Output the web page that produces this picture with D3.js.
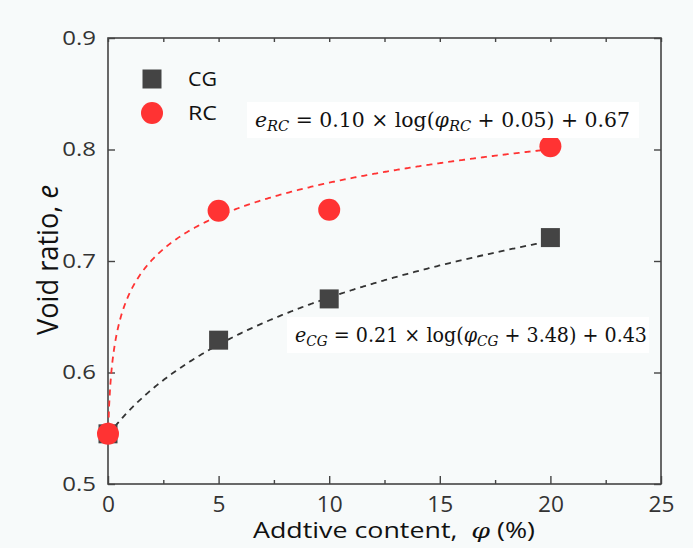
<!DOCTYPE html>
<html><head><meta charset="utf-8">
<script src="https://cdn.jsdelivr.net/npm/d3@7"></script>
<style>
html,body{margin:0;padding:0;background:#f7fafa;}
svg{display:block;}
</style></head>
<body>
<svg id="chart" width="693" height="548"></svg>
<script>
// Data
const additive = [0, 5, 10, 20];
const cgValues = [0.545, 0.629, 0.666, 0.721];
const rcValues = [0.545, 0.745, 0.746, 0.803];
const xTicks = [0, 5, 10, 15, 20, 25];
const yTicks = [0.5, 0.6, 0.7, 0.8, 0.9];
// fitted curve parameters (from the equations shown)
const rcFit = {a: 0.10, b: 0.05, c: 0.67};
const cgFit = {a: 0.21, b: 3.48, c: 0.43};

const svg = d3.select("#chart");
const W = 693, H = 548;
const m = {l: 108, r: 693 - 661, t: 38, b: 548 - 484};
const x = d3.scaleLinear().domain([0, 25]).range([m.l, W - m.r]);
const y = d3.scaleLinear().domain([0.5, 0.9]).range([H - m.b, m.t]);

svg.append("rect").attr("width", W).attr("height", H).attr("fill", "#f7fafa");

const axisColor = "#444";
svg.append("rect").attr("x", x(0)).attr("y", y(0.9))
  .attr("width", x(25) - x(0)).attr("height", y(0.5) - y(0.9))
  .attr("fill", "none").attr("stroke", axisColor).attr("stroke-width", 1.6);

const sans = "'Open Sans', 'Liberation Sans', sans-serif";

const xMinor = d3.range(0, 25.01, 2.5);
const gx = svg.append("g").attr("transform", `translate(0,${y(0.5)})`)
  .call(d3.axisBottom(x).tickValues(xMinor).tickSize(-4).tickFormat(""));
gx.selectAll("line").filter(d => d % 5 === 0).attr("y2", -8);
gx.select(".domain").remove();
gx.selectAll("line").attr("stroke", axisColor).attr("stroke-width", 1.4);

const gxl = svg.append("g").attr("transform", `translate(0,${y(0.5)})`)
  .call(d3.axisBottom(x).tickValues(xTicks).tickSize(0).tickPadding(13).tickFormat(d3.format("d")));
gxl.select(".domain").remove();
gxl.selectAll("text").attr("font-family", sans).attr("font-size", 21).attr("fill", "#333")
  .attr("transform", "scale(1.08,1)");

const gxt = svg.append("g").attr("transform", `translate(0,${y(0.9)})`)
  .call(d3.axisTop(x).tickValues(xMinor).tickSize(-4).tickFormat(""));
gxt.select(".domain").remove();
gxt.selectAll("line").attr("stroke", axisColor).attr("stroke-width", 1.4);

const gy = svg.append("g").attr("transform", `translate(${x(0)},0)`)
  .call(d3.axisLeft(y).tickValues(yTicks).tickSize(-7).tickPadding(0).tickFormat(d3.format(".1f")));
gy.select(".domain").remove();
gy.selectAll("line").attr("stroke", axisColor).attr("stroke-width", 1.4);
gy.selectAll("text").attr("font-family", sans).attr("font-size", 20).attr("fill", "#333")
  .attr("x", 0).attr("transform", "translate(-12,0) scale(1.2,1)");

const gyr = svg.append("g").attr("transform", `translate(${x(25)},0)`)
  .call(d3.axisRight(y).tickValues(yTicks).tickSize(-7).tickFormat(""));
gyr.select(".domain").remove();
gyr.selectAll("line").attr("stroke", axisColor).attr("stroke-width", 1.4);

// axis titles
svg.append("text").attr("x", 253).attr("y", 538)
  .attr("font-family", sans).attr("font-size", 21).attr("fill", "#111")
  .attr("textLength", 282).attr("lengthAdjust", "spacingAndGlyphs")
  .html("Addtive content,&#160; <tspan font-family=\"'DejaVu Serif', serif\" font-style=\"italic\">φ</tspan> (%)");

svg.append("text").attr("transform", `translate(58,260) scale(1.2,1) rotate(-90)`).attr("text-anchor", "middle")
  .attr("font-family", sans).attr("font-size", 25).attr("fill", "#111")
  .attr("textLength", 150).attr("lengthAdjust", "spacingAndGlyphs")
  .html("Void ratio, <tspan font-style=\"italic\">e</tspan>");

// fit curves
const fitX = d3.range(0, 20.001, 0.05);
const line = d3.line().x(d => x(d[0])).y(d => y(d[1]));
function fitPts(p) { return fitX.map(v => [v, p.a * Math.log10(v + p.b) + p.c]); }

svg.append("path").datum(fitPts(cgFit)).attr("d", line)
  .attr("fill", "none").attr("stroke", "#333").attr("stroke-width", 1.8).attr("stroke-dasharray", "6,5");
svg.append("path").datum(fitPts(rcFit)).attr("d", line)
  .attr("fill", "none").attr("stroke", "#ff3333").attr("stroke-width", 1.8).attr("stroke-dasharray", "6,5");

// markers
const sq = 19;
svg.append("g").selectAll("rect").data(additive).join("rect")
  .attr("x", (d) => x(d) - sq / 2).attr("y", (d, i) => y(cgValues[i]) - sq / 2)
  .attr("width", sq).attr("height", sq).attr("fill", "#444");
svg.append("g").selectAll("circle").data(additive).join("circle")
  .attr("cx", d => x(d)).attr("cy", (d, i) => y(rcValues[i])).attr("r", 11)
  .attr("fill", "#ff3333");

// legend
svg.append("rect").attr("x", 152 - sq / 2).attr("y", 79 - sq / 2).attr("width", sq).attr("height", sq).attr("fill", "#444");
svg.append("circle").attr("cx", 152).attr("cy", 113).attr("r", 11).attr("fill", "#ff3333");
svg.append("text").attr("x", 188).attr("y", 86).attr("font-family", sans).attr("font-size", 20).attr("fill", "#111")
  .attr("textLength", 29).attr("lengthAdjust", "spacingAndGlyphs").text("CG");
svg.append("text").attr("x", 188).attr("y", 120).attr("font-family", sans).attr("font-size", 20).attr("fill", "#111")
  .attr("textLength", 29).attr("lengthAdjust", "spacingAndGlyphs").text("RC");

// equations
const serif = "'DejaVu Serif', 'Liberation Serif', serif";
function equation(xp, yp, sub, coef, shift, inter, boxW) {
  svg.append("rect").attr("x", xp - 8).attr("y", yp - 25).attr("width", boxW).attr("height", 36).attr("fill", "#ffffff");
  const t = svg.append("text").attr("x", xp).attr("y", yp).attr("font-family", serif).attr("font-size", 19.5).attr("fill", "#111");
  t.append("tspan").attr("font-style", "italic").text("e");
  t.append("tspan").attr("font-style", "italic").attr("font-size", 14).attr("dy", 4).text(sub);
  t.append("tspan").attr("dy", -4).text(` = ${coef} × log(`);
  t.append("tspan").attr("font-style", "italic").text("φ");
  t.append("tspan").attr("font-style", "italic").attr("font-size", 14).attr("dy", 4).text(sub);
  t.append("tspan").attr("dy", -4).text(` + ${shift}) + ${inter}`);
  return t;
}
const eqRC = equation(255, 127, "RC", "0.10", "0.05", "0.67", 392);
const eqCG = equation(295, 342, "CG", "0.21", "3.48", "0.43", 362);
eqRC.attr("textLength", 375).attr("lengthAdjust", "spacingAndGlyphs");
eqCG.attr("textLength", 352).attr("lengthAdjust", "spacingAndGlyphs");
</script>
</body></html>
